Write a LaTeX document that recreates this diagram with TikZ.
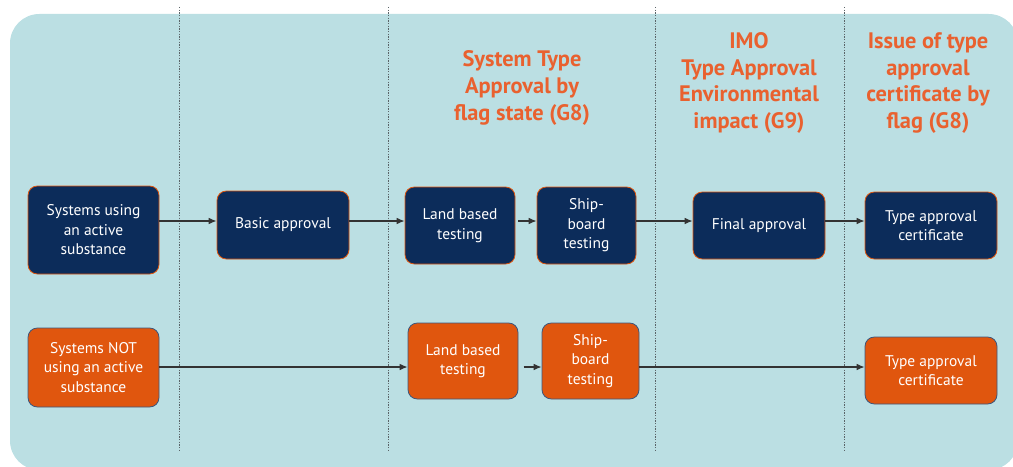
\documentclass[tikz,border=0pt]{standalone}
\usepackage{fontspec}
\setmainfont{PT Sans}
\usetikzlibrary{arrows.meta}

\definecolor{fondbleu}{HTML}{BBDFE3}
\definecolor{marine}{HTML}{0C2C5A}
\definecolor{brique}{HTML}{E0560E}
\definecolor{saumon}{HTML}{E9612F}
\definecolor{pointille}{HTML}{5A6468}

\tikzset{every picture/.style={line width=0.75pt}}
\tikzset{
  etape/.style={rounded corners=7pt, align=center, text=white, inner sep=2pt,
    font=\fontsize{11.6pt}{14.6pt}\selectfont, line width=0.6pt},
  etapeA/.style={etape, fill=marine, draw=brique},
  etapeN/.style={etape, fill=brique, draw=marine!80},
  entete/.style={text=saumon, align=center,
    font=\bfseries\fontsize{16.8pt}{20pt}\selectfont},
  colonne/.style={pointille, line width=0.6pt, dash pattern=on 1pt off 1pt},
  flux/.style={-{Latex[length=6pt,width=5pt]}, line width=0.9pt, draw=black!80},
}

\begin{document}
\begin{tikzpicture}[x=0.75pt, y=-0.75pt]
  \clip (0,0) rectangle (1013,467);

  % --- fond et colonnes ---
  \fill[fondbleu, rounded corners=22pt] (10,14) rectangle (1018,470);
  \foreach \x in {179,388,655,844}
    \draw[colonne] (\x,7) -- (\x,452);

  % --- titres des colonnes ---
  \node[entete] (tG8)  at (522,88) {System Type\\Approval by\\flag state (G8)};
  \node[entete] (tG9)  at (749,83) {IMO\\Type Approval\\Environmental\\impact (G9)};
  \node[entete] (tCert) at (928,83) {Issue of type\\approval\\certificate by\\flag (G8)};

  % --- ligne 1 : avec substance active ---
  \coordinate (rowA) at (0,221);
  \node[etapeA, minimum width=98.25pt, minimum height=66pt] (sysA) at (93.5,230)
    {Systems using\\an active\\substance};
  \node[etapeA, minimum width=99pt, minimum height=51pt] (basic) at (283,225)
    {Basic approval};
  \node[etapeA, minimum width=82.5pt, minimum height=57.75pt] (landA) at (460,225.5)
    {Land based\\testing};
  \node[etapeA, minimum width=74.25pt, minimum height=57.75pt] (shipA) at (586.5,225.5)
    {Ship-\\board\\testing};
  \node[etapeA, minimum width=99pt, minimum height=50.25pt] (final) at (759,225.5)
    {Final approval};
  \node[etapeA, minimum width=99pt, minimum height=50.25pt] (certA) at (931,225.5)
    {Type approval\\certificate};

  \draw[flux] (sysA.east |- rowA) -- (basic.west |- rowA);
  \draw[flux] (basic.east |- rowA) -- (landA.west |- rowA);
  \draw[flux, shorten <=2pt] (landA.east |- rowA) -- (shipA.west |- rowA);
  \draw[flux] (shipA.east |- rowA) -- (final.west |- rowA);
  \draw[flux] (final.east |- rowA) -- (certA.west |- rowA);

  % --- ligne 2 : sans substance active ---
  \coordinate (rowN) at (0,367);
  \node[etapeN, minimum width=98.25pt, minimum height=59.25pt] (sysN) at (93.5,367.5)
    {Systems NOT\\using an active\\substance};
  \node[etapeN, minimum width=82.5pt, minimum height=57pt] (landN) at (463,361)
    {Land based\\testing};
  \node[etapeN, minimum width=72.75pt, minimum height=57pt] (shipN) at (590.5,361)
    {Ship-\\board\\testing};
  \node[etapeN, minimum width=99pt, minimum height=50.25pt] (certN) at (931,370.5)
    {Type approval\\certificate};

  \draw[flux] (sysN.east |- rowN) -- (landN.west |- rowN);
  \draw[flux, shorten <=4pt] (landN.east |- rowN) -- (shipN.west |- rowN);
  \draw[flux] (shipN.east |- rowN) -- (certN.west |- rowN);
\end{tikzpicture}
\end{document}
